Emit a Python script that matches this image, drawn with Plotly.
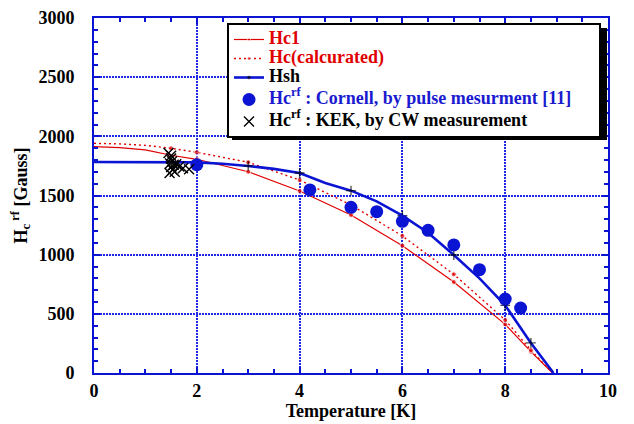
import plotly.graph_objects as go

# ---------------- data ----------------
# Hc1 (solid red)
hc1_T = [0, 0.5, 1.0, 1.5, 2, 3, 4, 5, 6, 7, 8, 8.5, 8.92]
hc1_H = [1913, 1905, 1885, 1840, 1806, 1701, 1538, 1335, 1076, 769, 411, 180, 0]
hc1_marked = [2, 3, 4, 5, 6, 7, 8, 8.5]

# Hc calculated (dotted red)
hcc_T = [0, 0.5, 1.0, 1.5, 2, 3, 4, 5, 6, 7, 8, 8.5, 8.92]
hcc_H = [1941, 1936, 1924, 1899, 1865, 1781, 1631, 1420, 1158, 834, 448, 194, 0]
hcc_marked = [1.5, 2, 3, 4, 5, 6, 7, 8, 8.5]

# Hsh (blue)
hsh_T = [0, 0.5, 1.0, 1.5, 2, 2.5, 3, 3.5, 4, 4.5, 5, 5.5, 6, 6.5, 7, 7.5, 8, 8.5, 8.94]
hsh_H = [1783, 1783, 1783, 1783, 1780, 1768, 1750, 1725, 1690, 1605, 1541, 1450, 1330, 1185, 997, 800, 572, 254, 0]
hsh_marked = [3, 4, 5, 6, 7, 8, 8.5]

# Cornell pulse measurement
cor_T = [2.0, 4.2, 5.0, 5.5, 6.0, 6.5, 7.0, 7.5, 8.0, 8.3]
cor_H = [1760, 1547, 1400, 1363, 1282, 1206, 1082, 873, 625, 549]

# KEK CW measurement
kek_T = [1.45, 1.50, 1.50, 1.52, 1.48, 1.55, 1.50, 1.53, 1.57, 1.47, 1.60, 1.66, 1.73, 1.85]
kek_H = [1860, 1835, 1812, 1790, 1770, 1760, 1740, 1718, 1700, 1690, 1765, 1745, 1730, 1722]

x_ticks = [0, 2, 4, 6, 8, 10]
y_ticks = [0, 500, 1000, 1500, 2000, 2500, 3000]

# ---------------- styles ----------------
RED = "#e00000"
BLUE = "#0a14d2"
GRIDBLUE = "#1e28e6"
FONT = "Liberation Serif"


def sizes(T, marked, s):
    return [s if t in marked else 0 for t in T]


def leg(text, color="#000000"):
    return f'<span style="font-size:18px;color:{color}">{text}</span>'


fig = go.Figure()

fig.add_trace(go.Scatter(
    x=hc1_T, y=hc1_H, mode="lines+markers", legendgroup="curves",
    name=leg("Hc1", "#e00000"),
    line=dict(color=RED, width=1.2),
    marker=dict(color=RED, size=sizes(hc1_T, hc1_marked, 5), symbol="circle"),
))
fig.add_trace(go.Scatter(
    x=hcc_T, y=hcc_H, mode="lines+markers", legendgroup="curves",
    name=leg("Hc(calcurated)", "#e00000"),
    line=dict(color=RED, width=1.4, dash="2px,3px"),
    marker=dict(color=RED, size=sizes(hcc_T, hcc_marked, 5), symbol="circle"),
))
fig.add_trace(go.Scatter(
    x=hsh_T, y=hsh_H, mode="lines+markers", legendgroup="curves",
    name=leg("Hsh"),
    line=dict(color=BLUE, width=2.6),
    marker=dict(color="black", size=sizes(hsh_T, hsh_marked, 7), symbol="cross-thin",
                line=dict(color="black", width=1.3)),
))
fig.add_trace(go.Scatter(
    x=cor_T, y=cor_H, mode="markers", legendgroup="cornell",
    name=leg("Hc<sup>rf</sup> : Cornell, by pulse mesurment [11]" + "&nbsp;" * 5, "#1a1ad0"),
    marker=dict(color=BLUE, size=13, symbol="circle"),
))
fig.add_trace(go.Scatter(
    x=kek_T, y=kek_H, mode="markers", legendgroup="kek",
    name=leg("Hc<sup>rf</sup> : KEK, by CW measurement"),
    marker=dict(color="black", size=10, symbol="x-thin", line=dict(color="black", width=1.4)),
))

# The page body has an 8px margin, so the figure starts at (8, 8) on screen.
OFF = 8
W, H = 634 - OFF, 424 - OFF
PL, PR, PT, PB = 94, 608, 18, 373          # wanted plot-area edges on screen
ml, mt = PL - OFF, PT - OFF
mr, mb = W - (PR - OFF), H - (PB - OFF)
pw, ph = PR - PL, PB - PT


def px_x(p):
    return (p - PL) / pw


def px_y(p):
    return 1 - (p - PT) / ph


# legend shadow
fig.add_shape(type="rect", xref="paper", yref="paper",
              x0=px_x(232), x1=px_x(607), y0=px_y(140), y1=px_y(28),
              fillcolor="black", line=dict(width=0), layer="above")

axis_common = dict(
    automargin=False,
    showline=True, linecolor=BLUE, linewidth=2, mirror="ticks",
    ticks="inside", ticklen=6, tickcolor=BLUE, tickwidth=1.5,
    showgrid=True, gridcolor=GRIDBLUE, gridwidth=2, griddash="2px,1px",
    zeroline=False,
    tickfont=dict(family=FONT, size=18, color="black", weight="bold"),
)

fig.update_xaxes(
    range=[0, 10], tickmode="array", tickvals=x_ticks,
    minor=dict(dtick=0.5, ticks="inside", ticklen=4, tickcolor=BLUE, showgrid=False),
    title=dict(text="Temperature [K]", font=dict(family=FONT, size=18, color="black", weight="bold"),
               standoff=4),
    ticklabelstandoff=0,
    **axis_common,
)
fig.update_yaxes(
    range=[0, 3000], tickmode="array", tickvals=y_ticks,
    minor=dict(dtick=100, ticks="inside", ticklen=4, tickcolor=BLUE, showgrid=False),
    title=dict(text="H<sub>c</sub><sup> rf</sup> [Gauss]",
               font=dict(family=FONT, size=18, color="black", weight="bold"), standoff=10),
    ticklabelstandoff=14,
    **axis_common,
)

fig.update_layout(
    width=W, height=H,
    margin=dict(l=ml, r=mr, t=mt, b=mb, autoexpand=False),
    paper_bgcolor="white", plot_bgcolor="white",
    showlegend=True,
    legend=dict(
        x=px_x(227), y=px_y(23), xanchor="left", yanchor="top",
        bgcolor="white", bordercolor="black", borderwidth=2,
        font=dict(family=FONT, size=11.5, color="black", weight="bold"),
        tracegroupgap=3, itemwidth=30, traceorder="grouped",
    ),
)

fig.write_html("out.html")
